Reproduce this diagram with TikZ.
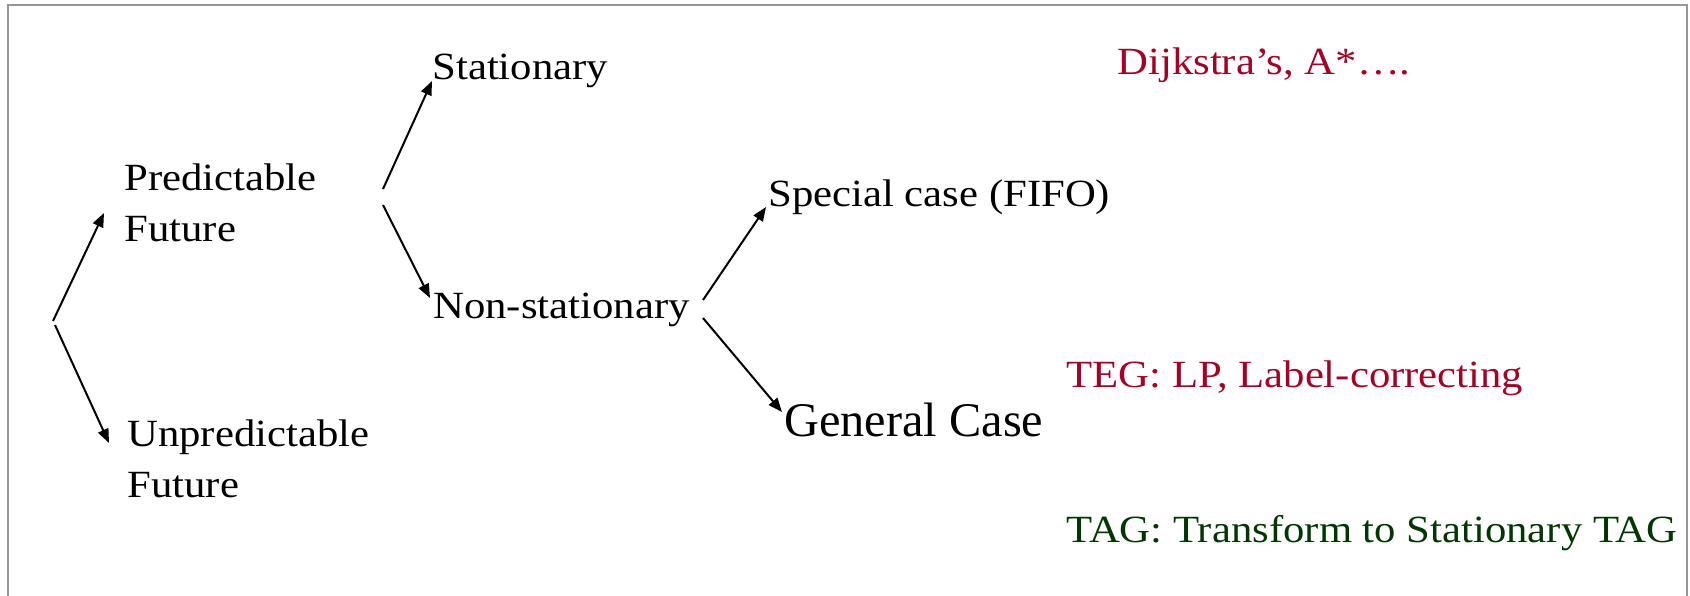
\documentclass[tikz,border=0pt]{standalone}
\usepackage{fontspec}
\setmainfont{Liberation Serif}
\newfontfamily\stretchf{Liberation Serif}[FakeStretch=1.11]
\usetikzlibrary{arrows.meta}
\definecolor{tred}{RGB}{163,0,38}
\definecolor{tgreen}{RGB}{0,55,0}
\definecolor{framegray}{RGB}{150,150,150}
\tikzset{
  lbl/.style={anchor=base west, inner sep=0pt, font=\stretchf\fontsize{19.25}{25.5}\selectfont, align=left},
  biglbl/.style={anchor=base west, inner sep=0pt, font=\fontsize{24.15}{28}\selectfont},
  arr/.style={line width=1pt, -{Triangle[length=7pt,width=5.5pt]}},
}
\begin{document}
\begin{tikzpicture}[x=0.5pt,y=-0.5pt]
\useasboundingbox (0,0) rectangle (1690,595);
\begin{scope}
\clip (0,0) rectangle (1690,595);
\draw[framegray, line width=1pt] (7.5,600) -- (7.5,4.5) -- (1687,4.5) -- (1687,600);
\end{scope}
% nodes (multi-line nodes: base = baseline of last line)
\node[lbl] (stat) at (432,79) {Stationary};
\node[lbl] (pred) at (124,241) {Predictable\\Future};
\node[lbl] (unpred) at (127,497) {Unpredictable\\Future};
\node[lbl] (nonstat) at (433,318) {Non-stationary};
\node[lbl] (special) at (768,206) {Special case (FIFO)};
\node[biglbl] (general) at (784,436.5) {General Case};
\node[lbl, text=tred] (dijk) at (1117,74) {Dijkstra’s, A*….};
\node[lbl, text=tred] (teg) at (1066,387) {TEG: LP, Label-correcting};
\node[lbl, text=tgreen] (tag) at (1066,542) {TAG: Transform to Stationary TAG};
% fork coordinates
\coordinate (r1) at (53,321);
\coordinate (r2) at (55,325);
\coordinate (t1) at (104,213);
\coordinate (t2) at (109,443);
\coordinate (f1) at (383,189);
\coordinate (f2) at (383,205);
\coordinate (s1) at (432,81);
\coordinate (s2) at (430,298);
\coordinate (g1) at (703,300);
\coordinate (g2) at (703,318);
\coordinate (h1) at (766,207);
\coordinate (h2) at (782,412);
% connectors
\draw[arr] (r1) -- (t1);
\draw[arr] (r2) -- (t2);
\draw[arr] (f1) -- (s1);
\draw[arr] (f2) -- (s2);
\draw[arr] (g1) -- (h1);
\draw[arr] (g2) -- (h2);
\end{tikzpicture}
\end{document}
